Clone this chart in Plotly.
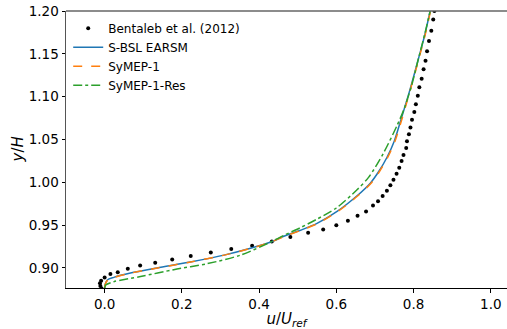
import plotly.graph_objects as go

# Bentaleb et al. (2012) reference data
exp_u = [-0.008, -0.011, -0.012, -0.009, 0.0, 0.015, 0.034, 0.060, 0.092, 0.131, 0.175, 0.223, 0.275,
         0.328, 0.382, 0.433, 0.481, 0.527, 0.566, 0.600, 0.630, 0.655, 0.677, 0.695, 0.708,
         0.720, 0.731, 0.740, 0.748, 0.756, 0.763, 0.769, 0.774, 0.781, 0.783, 0.788, 0.792,
         0.796, 0.802, 0.806, 0.811, 0.815, 0.821, 0.826, 0.831, 0.835, 0.840, 0.846, 0.851, 0.854]
exp_y = [0.876, 0.879, 0.882, 0.885, 0.889, 0.893, 0.895, 0.899, 0.903, 0.906, 0.910, 0.914, 0.918,
         0.922, 0.926, 0.931, 0.936, 0.941, 0.945, 0.950, 0.955, 0.961, 0.966, 0.973, 0.978,
         0.984, 0.990, 0.9965, 1.003, 1.010, 1.017, 1.025, 1.032, 1.040, 1.048, 1.056, 1.064,
         1.073, 1.082, 1.091, 1.101, 1.111, 1.121, 1.132, 1.142, 1.153, 1.165, 1.177, 1.190, 1.200]

# S-BSL EARSM
bsl_u = [0.0, 0.001, 0.007, 0.024, 0.067, 0.136, 0.222, 0.309, 0.378, 0.429, 0.464, 0.507, 0.550,
         0.602, 0.653, 0.688, 0.709, 0.731, 0.750, 0.768, 0.790, 0.812, 0.829, 0.843]
bsl_y = [0.876, 0.880, 0.886, 0.889, 0.894, 0.900, 0.907, 0.915, 0.923, 0.930, 0.937, 0.944, 0.952,
         0.966, 0.984, 0.999, 1.012, 1.029, 1.048, 1.074, 1.107, 1.143, 1.172, 1.200]

# SyMEP-1
sym_u = [0.0, 0.001, 0.008, 0.025, 0.068, 0.137, 0.223, 0.310, 0.379, 0.430, 0.466, 0.509, 0.552,
         0.604, 0.655, 0.690, 0.711, 0.733, 0.752, 0.770, 0.791, 0.813, 0.830, 0.844]
sym_y = [0.876, 0.880, 0.886, 0.889, 0.894, 0.900, 0.907, 0.915, 0.923, 0.930, 0.937, 0.944, 0.952,
         0.966, 0.984, 0.999, 1.012, 1.029, 1.048, 1.074, 1.107, 1.143, 1.172, 1.200]

# SyMEP-1-Res
res_u = [0.0, 0.003, 0.024, 0.093, 0.179, 0.266, 0.352, 0.429, 0.464, 0.507, 0.550, 0.600, 0.653,
         0.684, 0.722, 0.757, 0.775, 0.795, 0.813, 0.829, 0.843]
res_y = [0.876, 0.880, 0.884, 0.890, 0.898, 0.905, 0.915, 0.930, 0.938, 0.947, 0.957, 0.970, 0.991,
         1.006, 1.034, 1.066, 1.085, 1.113, 1.145, 1.173, 1.200]

x_ticks = [0.0, 0.2, 0.4, 0.6, 0.8, 1.0]
y_ticks = [0.90, 0.95, 1.00, 1.05, 1.10, 1.15, 1.20]

fig = go.Figure()
fig.add_trace(go.Scatter(x=exp_u, y=exp_y, mode="markers", name="Bentaleb et al. (2012)",
                         marker=dict(color="black", size=4)))
fig.add_trace(go.Scatter(x=bsl_u, y=bsl_y, mode="lines", name="S-BSL EARSM",
                         line=dict(color="#1f77b4", width=1.5, shape="spline", smoothing=0.8)))
fig.add_trace(go.Scatter(x=sym_u, y=sym_y, mode="lines", name="SyMEP-1",
                         line=dict(color="#ff7f0e", width=1.5, dash="dash", shape="spline", smoothing=0.8)))
fig.add_trace(go.Scatter(x=res_u, y=res_y, mode="lines", name="SyMEP-1-Res",
                         line=dict(color="#2ca02c", width=1.5, dash="dashdot", shape="spline", smoothing=0.8)))

fig.update_layout(
    width=507, height=329,
    margin=dict(l=66, r=0, t=11, b=41),
    plot_bgcolor="white", paper_bgcolor="white",
    font=dict(family="DejaVu Sans", color="black", size=13.5),
    showlegend=True,
    legend=dict(x=0.005, y=0.99, xanchor="left", yanchor="top", bgcolor="rgba(0,0,0,0)",
                font=dict(size=12), tracegroupgap=0, itemwidth=30),
    xaxis=dict(range=[-0.1, 1.042], tickvals=x_ticks, tickformat=".1f", showgrid=False, zeroline=False,
               showline=True, linecolor="black", linewidth=1, ticks="outside", ticklen=3.5,
               tickcolor="black", tickfont=dict(size=13.5),
               title=dict(text="<i>u</i>/<i>U<sub>ref</sub></i>", font=dict(size=15), standoff=2)),
    yaxis=dict(range=[0.8766, 1.2], tickvals=y_ticks, tickformat=".2f", showgrid=False, zeroline=False,
               showline=True, linecolor="#555", linewidth=1, ticks="outside", ticklen=3.5,
               tickcolor="black", tickfont=dict(size=13.5)),
    annotations=[dict(text="<i>y</i>/<i>H</i>", xref="paper", yref="paper", x=-0.109, y=0.5,
                      xanchor="center", yanchor="middle", textangle=-90, showarrow=False,
                      font=dict(size=15))],
    shapes=[dict(type="line", xref="paper", yref="paper", x0=0, x1=1, y0=1, y1=1,
                 line=dict(color="#666", width=1.5))],
)

fig.write_html("out.html")
